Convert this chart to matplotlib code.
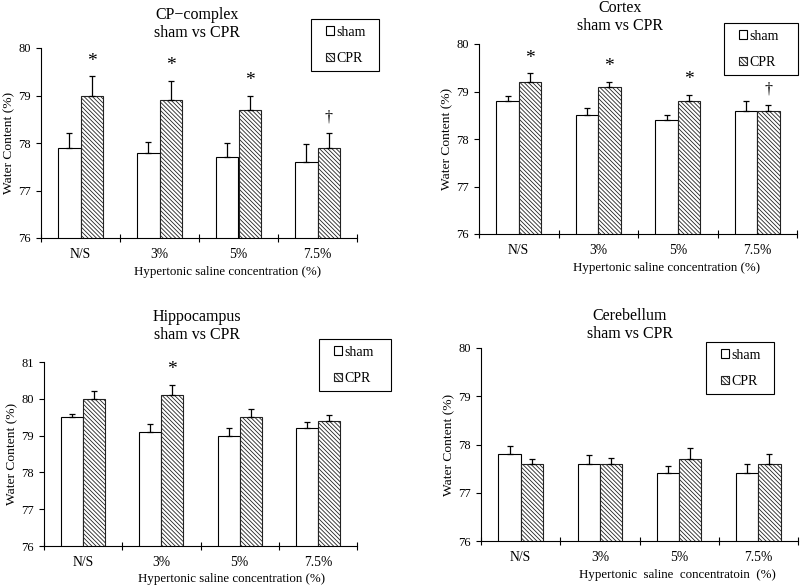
import numpy as np
import matplotlib
matplotlib.use("Agg")
import matplotlib.pyplot as plt
import matplotlib.patches as mpatches
from matplotlib.legend_handler import HandlerPatch

plt.rcParams['font.family'] = ['Liberation Serif', 'DejaVu Serif']
plt.rcParams['hatch.linewidth'] = 0.6

categories = ['N/S', '3%', '5%', '7.5%']

# CP-complex
cp_sham = [77.9, 77.8, 77.7, 77.6]
cp_sham_err = [0.32, 0.22, 0.30, 0.38]
cp_cpr = [79.0, 78.9, 78.7, 77.9]
cp_cpr_err = [0.40, 0.40, 0.30, 0.32]
cp_marks = ['*', '*', '*', '\u2020']

# Cortex
cx_sham = [78.8, 78.5, 78.4, 78.6]
cx_sham_err = [0.10, 0.15, 0.10, 0.20]
cx_cpr = [79.2, 79.1, 78.8, 78.6]
cx_cpr_err = [0.18, 0.10, 0.13, 0.12]
cx_marks = ['*', '*', '*', '\u2020']

# Hippocampus
hp_sham = [79.5, 79.1, 79.0, 79.2]
hp_sham_err = [0.10, 0.22, 0.22, 0.18]
hp_cpr = [80.0, 80.1, 79.5, 79.4]
hp_cpr_err = [0.20, 0.27, 0.22, 0.17]
hp_marks = ['', '*', '', '']

# Cerebellum
cb_sham = [77.8, 77.6, 77.4, 77.4]
cb_sham_err = [0.16, 0.19, 0.16, 0.20]
cb_cpr = [77.6, 77.6, 77.7, 77.6]
cb_cpr_err = [0.09, 0.12, 0.22, 0.20]
cb_marks = ['', '', '', '']

W, H = 800, 586
fig = plt.figure(figsize=(8, 5.86), dpi=100)


def px_axes(l, t, r, b):
    return fig.add_axes([l / W, 1 - b / H, (r - l) / W, (b - t) / H])


def small_square(legend, orig_handle, xdescent, ydescent, width, height, fontsize):
    # little square pushed to the right end of the handle area
    return mpatches.Rectangle((-xdescent + width - height, -ydescent), height, height)


def draw_panel(ax, sham, sham_err, cpr, cpr_err, marks, ytop, title, title_xy,
               legend_box, xlabel, xlabel_x):
    x = np.arange(len(categories))
    bw = 0.28
    zeros = [0] * len(x)
    b1 = ax.bar(x - bw / 2, sham, bw, color='white', edgecolor='black',
                linewidth=0.8, zorder=2)
    b2 = ax.bar(x + bw / 2, cpr, bw, color='white', edgecolor='#222222',
                linewidth=0.8, hatch='\\\\\\\\\\\\\\\\', zorder=2)
    ax.errorbar(x - bw / 2, sham, yerr=[zeros, sham_err], fmt='none',
                ecolor='black', elinewidth=0.9, capsize=2.2, capthick=0.9, zorder=3)
    ax.errorbar(x + bw / 2, cpr, yerr=[zeros, cpr_err], fmt='none',
                ecolor='black', elinewidth=0.9, capsize=2.2, capthick=0.9, zorder=3)
    for xi, v, e, m in zip(x, cpr, cpr_err, marks):
        if m:
            ax.annotate(m, (xi + bw / 2, v + e), xytext=(0, 5),
                        textcoords='offset points', ha='center', va='bottom',
                        fontsize=14 if m == '*' else 11.5)

    ax.set_xlim(-0.5, len(x) - 0.5)
    ax.set_ylim(76, ytop)
    ax.set_yticks(np.arange(76, ytop + 1))
    ax.set_xticks(x)
    ax.set_xticklabels(categories)
    ax.set_xticks(np.arange(-0.5, len(x)), minor=True)
    ax.tick_params(axis='x', which='major', length=0, pad=7, labelsize=9.8)
    ax.tick_params(axis='x', which='minor', direction='inout', length=6, width=0.8)
    ax.tick_params(axis='y', direction='out', length=3.5, width=0.8, pad=4,
                   labelsize=9)
    for s in ['top', 'right']:
        ax.spines[s].set_visible(False)
    for s in ['left', 'bottom']:
        ax.spines[s].set_linewidth(0.8)

    ax.text(-0.10, 0.5, 'Water Content (%)', transform=ax.transAxes,
            rotation=90, ha='center', va='center', fontsize=9.7)
    ax.text(xlabel_x, -0.178, xlabel, transform=ax.transAxes,
            ha='center', va='center', fontsize=9.3)
    fig.text(title_xy[0] / W, 1 - title_xy[1] / H, title, ha='center',
             va='center', fontsize=11.5, linespacing=1.15)

    l, t, r, b = legend_box
    leg = ax.legend([b1.patches[0], b2.patches[0]], ['sham', 'CPR'],
                    loc='upper left',
                    bbox_to_anchor=(l / W, 1 - b / H, (r - l) / W, (b - t) / H),
                    bbox_transform=fig.transFigure, mode='expand',
                    fancybox=False, edgecolor='black', framealpha=1,
                    fontsize=10, handlelength=1.2, handleheight=0.55,
                    handletextpad=0.15, labelspacing=0.95, borderpad=0.47,
                    borderaxespad=0,
                    handler_map={mpatches.Rectangle: HandlerPatch(patch_func=small_square)})
    leg.get_frame().set_linewidth(0.8)


ax1 = px_axes(41, 48, 357, 238)
draw_panel(ax1, cp_sham, cp_sham_err, cp_cpr, cp_cpr_err, cp_marks, 80,
           'CP\u2212complex\nsham vs CPR', (197, 24), (311, 19, 379, 73),
           'Hypertonic saline concentration (%)', 0.59)

ax2 = px_axes(479, 44, 797, 234)
draw_panel(ax2, cx_sham, cx_sham_err, cx_cpr, cx_cpr_err, cx_marks, 80,
           'Cortex\nsham vs CPR', (620, 17), (724, 23, 798, 74),
           'Hypertonic saline concentration (%)', 0.59)

ax3 = px_axes(44, 362, 357, 546)
draw_panel(ax3, hp_sham, hp_sham_err, hp_cpr, hp_cpr_err, hp_marks, 81,
           'Hippocampus\nsham vs CPR', (197, 326), (319, 339, 391, 389),
           'Hypertonic saline concentration (%)', 0.60)

ax4 = px_axes(481, 348, 798, 541)
draw_panel(ax4, cb_sham, cb_sham_err, cb_cpr, cb_cpr_err, cb_marks, 80,
           'Cerebellum\nsham vs CPR', (630, 325), (706, 342, 774, 393),
           'Hypertonic  saline  concentratoin  (%)', 0.62)

fig.savefig('out.png', dpi=100)
